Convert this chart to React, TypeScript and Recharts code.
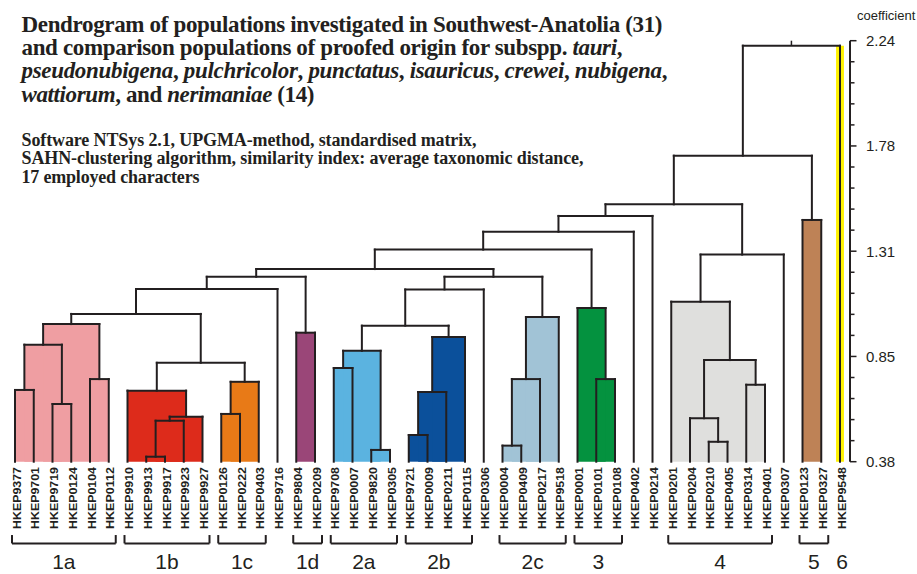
import React from "react";
import { ComposedChart, XAxis, YAxis, ReferenceArea, ReferenceLine } from "recharts";

// ---------- data ----------
const leafLabels = [
  "HKEP9377", "HKEP9701", "HKEP9719", "HKEP0124", "HKEP0104", "HKEP0112",
  "HKEP9910", "HKEP9913", "HKEP9917", "HKEP9923", "HKEP9927",
  "HKEP0126", "HKEP0222", "HKEP0403",
  "HKEP9716",
  "HKEP9804", "HKEP0209",
  "HKEP9708", "HKEP0007", "HKEP9820", "HKEP0305",
  "HKEP9721", "HKEP0009", "HKEP0211", "HKEP0115",
  "HKEP0306",
  "HKEP0004", "HKEP0409", "HKEP0217", "HKEP9518",
  "HKEP0001", "HKEP0101", "HKEP0108",
  "HKEP0402", "HKEP0214",
  "HKEP0201", "HKEP0204", "HKEP0210", "HKEP0405", "HKEP0314", "HKEP0401", "HKEP0307",
  "HKEP0123", "HKEP0327",
  "HKEP9548",
];

// merges: [node name, left child, right child, coefficient]
// children: number = leaf index, string = earlier node
const merges: [string, string | number, string | number, number][] = [
  ["a1", 0, 1, 0.697],
  ["a2", 2, 3, 0.635],
  ["a3", "a1", "a2", 0.897],
  ["a4", 4, 5, 0.745],
  ["1a", "a3", "a4", 0.988],
  ["b1", 7, 8, 0.402],
  ["b2", "b1", 9, 0.561],
  ["b3", "b2", 10, 0.579],
  ["1b", 6, "b3", 0.694],
  ["c1", 11, 12, 0.591],
  ["1c", "c1", 13, 0.733],
  ["1bc", "1b", "1c", 0.817],
  ["1abc", "1a", "1bc", 1.033],
  ["n1", "1abc", 14, 1.143],
  ["1d", 15, 16, 0.95],
  ["n2", "n1", "1d", 1.197],
  ["d1", 17, 18, 0.794],
  ["d2", 19, 20, 0.432],
  ["2a", "d1", "d2", 0.87],
  ["e1", 21, 22, 0.498],
  ["e2", "e1", 23, 0.688],
  ["2b", "e2", 24, 0.931],
  ["2ab", "2a", "2b", 0.981],
  ["n3", "2ab", 25, 1.141],
  ["f1", 26, 27, 0.451],
  ["f2", "f1", 28, 0.745],
  ["2c", "f2", 29, 1.019],
  ["n4", "n3", "2c", 1.197],
  ["n5", "n2", "n4", 1.231],
  ["g1", 31, 32, 0.745],
  ["3", 30, "g1", 1.059],
  ["n6", "n5", "3", 1.317],
  ["n7", "n6", 33, 1.396],
  ["n8", "n7", 34, 1.466],
  ["h1", 37, 38, 0.468],
  ["h2", 36, "h1", 0.572],
  ["h3", 39, 40, 0.72],
  ["h4", "h2", "h3", 0.829],
  ["4", 35, "h4", 1.087],
  ["n9", "4", 41, 1.295],
  ["n10", "n8", "n9", 1.517],
  ["5", 42, 43, 1.448],
  ["n11", "n10", "5", 1.732],
  ["root", "n11", 44, 2.218],
];

const clusterNames = ["1a", "1b", "1c", "1d", "2a", "2b", "2c", "3", "4", "5"];
const clusterColors = [
  "#EF9EA2", "#DD2B1B", "#E87A17", "#9A4678", "#5BB3E0",
  "#0B509B", "#A1C3D6", "#04923F", "#DFDFDD", "#BE8256",
];
const highlightLeaf = 44;
const highlightColor = "#FFF200";

const groupLabels = ["1a", "1b", "1c", "1d", "2a", "2b", "2c", "3", "4", "5", "6"];
const groupFirst = [0, 6, 11, 15, 17, 21, 26, 30, 35, 42, 44];
const groupLast = [5, 10, 13, 16, 20, 24, 29, 32, 40, 43, 44];
const groupHasBracket = [true, true, true, true, true, true, true, true, true, true, false];

const yTickValues = [
  0.38, 0.473, 0.566, 0.659, 0.752, 0.845, 0.938, 1.031, 1.124, 1.217, 1.31,
  1.403, 1.496, 1.589, 1.682, 1.775, 1.868, 1.961, 2.054, 2.147, 2.24,
];
const yTickLabels = [
  "0.38", "", "", "", "", "0.85", "", "", "", "", "1.31",
  "", "", "", "", "1.78", "", "", "", "", "2.24",
];
const yMin = 0.38;
const yMax = 2.24;

// ---------- layout constants ----------
const INK = "#231F20";
const LW = 2;
const X_MAX = 44.533;
const BR_LEFT = 0.16;
const BR_RIGHT = 0.373;
const BRACKET_Y = 0.019;
const BRACKET_END_Y = 0.056;
const SANS = { fontFamily: "Liberation Sans" };
const SERIF = { fontFamily: "Liberation Serif" };

// ---------- tree geometry ----------
const nodeX: Record<string, number> = {};
const nodeH: Record<string, number> = {};
const getX = (r: string | number) => (typeof r === "number" ? r : nodeX[r]);
const getH = (r: string | number) => (typeof r === "number" ? yMin : nodeH[r]);
merges.forEach(([name, l, r, h]) => {
  nodeX[name] = (getX(l) + getX(r)) / 2;
  nodeH[name] = h;
});
const nodeColor: Record<string, string> = {};
const children: Record<string, (string | number)[]> = {};
merges.forEach(([name, l, r]) => (children[name] = [l, r]));
const paint = (name: string, color: string) => {
  nodeColor[name] = color;
  children[name].forEach((c) => {
    if (typeof c === "string") paint(c, color);
  });
};
clusterNames.forEach((c, i) => paint(c, clusterColors[i]));

const leafData = leafLabels.map((label, i) => ({ i, label }));
const leafTicks = leafLabels.map((_, i) => i);
const groupCenters = groupLabels.map(
  (_, g) => (groupFirst[g] - BR_LEFT + groupLast[g] + BR_RIGHT) / 2
);

// ---------- ticks ----------
const LeafTick = (props: any) => {
  const { x, y, payload } = props;
  return (
    <text
      x={0}
      y={0}
      transform={`translate(${x + 5.5},${y + 5.3}) rotate(-90)`}
      textAnchor="end"
      style={SANS}
      fontWeight="bold"
      fontSize={11.5}
      fill={INK}
      textLength={62}
      lengthAdjust="spacingAndGlyphs"
    >
      {leafLabels[payload.value]}
    </text>
  );
};

const GroupTick = (props: any) => {
  const { x, y, index } = props;
  return (
    <text x={x} y={y + 32.5} textAnchor="middle" style={SANS} fontSize={21} fill={INK}>
      {groupLabels[index]}
    </text>
  );
};

const YTick = (props: any) => {
  const { x, y, index } = props;
  const label = yTickLabels[index];
  const major = label !== "";
  return (
    <g>
      <line x1={x} x2={x + (major ? 6.5 : 4.5)} y1={y} y2={y} stroke={INK} strokeWidth={1.5} />
      {major && (
        <text x={x + 16} y={y} dy="0.36em" style={SANS} fontSize={15} fill={INK}>
          {label}
        </text>
      )}
    </g>
  );
};

export default function App() {
  const areas: React.ReactNode[] = [];
  const lines: React.ReactNode[] = [];

  // highlight band for single leaf
  areas.push(
    <ReferenceArea
      key="hl"
      x1={highlightLeaf - 0.21}
      x2={highlightLeaf + 0.21}
      y1={yMin}
      y2={nodeH["root"]}
      fill={highlightColor}
      fillOpacity={1}
      stroke="none"
      ifOverflow="visible"
    />
  );

  merges.forEach(([name, l, r, h]) => {
    const xl = getX(l);
    const xr = getX(r);
    if (nodeColor[name]) {
      areas.push(
        <ReferenceArea
          key={"a" + name}
          x1={xl}
          x2={xr}
          y1={yMin}
          y2={h}
          fill={nodeColor[name]}
          fillOpacity={1}
          stroke="none"
          ifOverflow="visible"
        />
      );
    }
    const common = { stroke: INK, strokeWidth: LW, strokeLinecap: "square" as const, ifOverflow: "visible" as const };
    lines.push(
      <ReferenceLine key={"h" + name} segment={[{ x: xl, y: h }, { x: xr, y: h }]} {...common} />,
      <ReferenceLine key={"l" + name} segment={[{ x: xl, y: getH(l) }, { x: xl, y: h }]} {...common} />,
      <ReferenceLine key={"r" + name} segment={[{ x: xr, y: getH(r) }, { x: xr, y: h }]} {...common} />
    );
  });
  // root stub up to the top of the scale
  lines.push(
    <ReferenceLine
      key="stub"
      segment={[{ x: nodeX["root"], y: nodeH["root"] }, { x: nodeX["root"], y: yMax }]}
      stroke={INK}
      strokeWidth={1.5}
      ifOverflow="visible"
    />
  );
  // group brackets
  groupLabels.forEach((g, k) => {
    if (!groupHasBracket[k]) return;
    const a = groupFirst[k] - BR_LEFT;
    const b = groupLast[k] + BR_RIGHT;
    const common = { stroke: INK, strokeWidth: 2, ifOverflow: "visible" as const };
    lines.push(
      <ReferenceLine key={"bh" + g} segment={[{ x: a, y: BRACKET_Y }, { x: b, y: BRACKET_Y }]} {...common} />,
      <ReferenceLine key={"bl" + g} segment={[{ x: a, y: BRACKET_Y }, { x: a, y: BRACKET_END_Y }]} {...common} />,
      <ReferenceLine key={"br" + g} segment={[{ x: b, y: BRACKET_Y }, { x: b, y: BRACKET_END_Y }]} {...common} />
    );
  });

  return (
    <div style={{ position: "absolute", left: 0, top: 0, width: 917, height: 574, background: "#fff" }}>
      <ComposedChart
        width={917}
        height={574}
        data={leafData}
        margin={{ top: 40.7, left: 15, right: 0, bottom: 0 }}
      >
        <XAxis
          dataKey="i"
          type="number"
          domain={[0, X_MAX]}
          allowDataOverflow
          ticks={leafTicks}
          interval={0}
          tick={<LeafTick />}
          tickLine={false}
          axisLine={false}
          tickSize={0}
          tickMargin={0}
          height={75}
        />
        <XAxis
          xAxisId="grp"
          dataKey="i"
          type="number"
          domain={[0, X_MAX]}
          allowDataOverflow
          ticks={groupCenters}
          interval={0}
          tick={<GroupTick />}
          tickLine={false}
          axisLine={false}
          tickSize={0}
          tickMargin={0}
          height={37.3}
        />
        <YAxis
          orientation="right"
          type="number"
          domain={[yMin, yMax]}
          allowDataOverflow
          ticks={yTickValues}
          interval={0}
          tick={<YTick />}
          tickLine={false}
          tickSize={0}
          tickMargin={0}
          axisLine={{ stroke: INK, strokeWidth: 2 }}
          width={67}
        />
        {areas}
        {lines}
      </ComposedChart>
      <svg
        width={917}
        height={200}
        style={{ position: "absolute", left: 0, top: 0, pointerEvents: "none" }}
      >
        <g fontWeight="bold" fill={INK}>
          <text x={21.5} y={31.7} fontSize={23} style={SERIF} textLength={641} lengthAdjust="spacing">
            Dendrogram of populations investigated in Southwest-Anatolia (31)
          </text>
          <text x={21.5} y={55} fontSize={23} style={SERIF} textLength={601} lengthAdjust="spacing">
            and comparison populations of proofed origin for subspp. <tspan fontStyle="italic">tauri</tspan>,
          </text>
          <text x={21.5} y={78.3} fontSize={23} style={SERIF} textLength={646} lengthAdjust="spacing">
            <tspan fontStyle="italic">pseudonubigena</tspan>, <tspan fontStyle="italic">pulchricolor</tspan>,{" "}
            <tspan fontStyle="italic">punctatus</tspan>, <tspan fontStyle="italic">isauricus</tspan>,{" "}
            <tspan fontStyle="italic">crewei</tspan>, <tspan fontStyle="italic">nubigena</tspan>,
          </text>
          <text x={21.5} y={101.7} fontSize={23} style={SERIF} textLength={293} lengthAdjust="spacing">
            <tspan fontStyle="italic">wattiorum</tspan>, and <tspan fontStyle="italic">nerimaniae</tspan> (14)
          </text>
          <text x={21.5} y={145.7} fontSize={18} style={SERIF} textLength={455} lengthAdjust="spacing">
            Software NTSys 2.1, UPGMA-method, standardised matrix,
          </text>
          <text x={21.5} y={164.2} fontSize={18} style={SERIF} textLength={562} lengthAdjust="spacing">
            SAHN-clustering algorithm, similarity index: average taxonomic distance,
          </text>
          <text x={21.5} y={182.7} fontSize={18} style={SERIF} textLength={178} lengthAdjust="spacing">
            17 employed characters
          </text>
        </g>
        <text x={857} y={20} fontSize={13} style={SANS} fill={INK}>
          coefficient
        </text>
      </svg>
    </div>
  );
}
